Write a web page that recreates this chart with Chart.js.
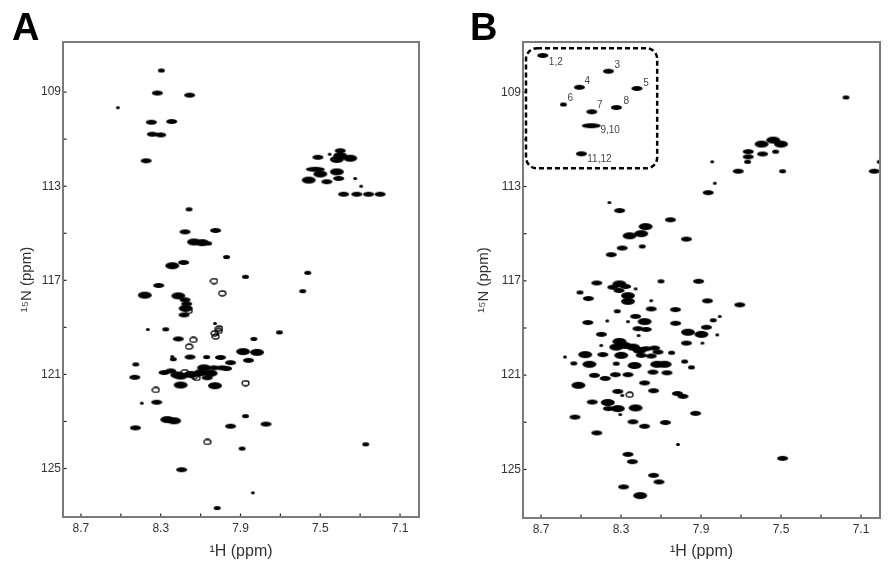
<!DOCTYPE html>
<html><head><meta charset="utf-8">
<script src="https://cdn.jsdelivr.net/npm/chart.js@4.4.0/dist/chart.umd.min.js"></script>
<style>
html,body{margin:0;padding:0;background:#fff;}
#wrap{position:relative;width:892px;height:573px;overflow:hidden;background:#fff;}
.pan{position:absolute;top:0;width:446px;height:573px;}
.letter{position:absolute;font:bold 38px 'Liberation Sans',Arial,sans-serif;line-height:38px;color:#000;}
</style></head><body>
<div id="wrap">
<div class="pan" style="left:0"><canvas id="cA" width="446" height="573" style="width:446px;height:573px"></canvas></div>
<div class="pan" style="left:446px"><canvas id="cB" width="446" height="573" style="width:446px;height:573px"></canvas></div>
<div class="letter" style="left:12px;top:8px">A</div>
<div class="letter" style="left:470px;top:8px">B</div>
</div>
<script>
// ---------- DATA ----------
// Panel A: 1H shift (ppm), 15N shift (ppm), intensity class (0 = weak contour ring, 1..5 increasing)
const aH = [8.297,8.317,8.155,8.515,8.347,8.245,8.342,8.300,8.373,8.158,8.178,8.025,8.133,8.092,8.060,7.970,8.242,8.185,7.875,8.033,8.310,7.563,
 7.400,7.512,7.417,7.350,7.453,7.525,7.500,7.417,7.558,7.467,7.408,7.325,7.295,7.383,7.317,7.258,7.200,7.400,
 8.380,8.212,8.178,8.175,8.183,7.992,7.588,8.365,8.275,8.212,8.137,8.158,8.025,8.008,8.028,7.705,7.833,8.153,8.070,8.242,7.887,7.817,
 8.425,8.237,8.000,7.950,7.860,7.875,8.283,8.217,8.200,8.133,8.100,8.083,8.067,8.033,7.992,8.200,8.028,8.430,8.325,8.320,8.395,
 8.267,8.233,8.427,7.950,7.875,7.772,8.067,7.892,7.272,8.195,7.838,8.017,
 8.250,8.150,8.050,7.970,8.180,8.120,8.170,8.160,8.030,8.010];
const aN = [108.08,109.04,109.13,109.66,110.28,110.25,110.79,110.82,111.92,113.98,114.94,114.88,115.37,115.40,115.43,116.01,116.38,116.24,116.85,117.03,117.22,116.68,
 111.49,111.77,111.86,111.81,111.64,112.28,112.48,112.39,112.74,112.81,112.67,112.67,113.00,113.34,113.34,113.34,113.34,111.70,
 117.63,117.66,117.83,118.19,118.47,117.55,117.46,119.09,119.08,119.49,119.53,119.82,119.39,119.04,118.83,119.21,119.49,120.26,120.26,120.24,120.03,120.06,
 120.57,120.35,120.28,120.50,120.40,121.37,120.92,121.02,121.07,121.07,120.93,120.72,121.14,120.72,120.72,121.45,121.48,121.12,121.66,122.18,122.22,
 122.92,122.97,123.27,123.20,122.77,123.11,123.87,124.15,123.97,125.05,126.03,126.68,
 120.85,121.00,120.95,120.75,120.90,121.15,118.00,118.30,119.25,119.15];
const aI = [2,3,3,1,3,3,3,3,3,2,3,3,4,4,2,2,4,3,2,0,3,2,
 3,3,4,4,1,5,4,4,4,3,3,1,1,3,3,3,3,4,
 4,4,3,4,3,0,2,1,2,3,0,0,0,0,1,2,2,3,2,1,4,4,
 2,2,3,3,3,0,3,4,4,0,4,4,3,3,3,4,4,3,0,3,1,
 4,4,3,3,2,3,0,2,2,3,1,2,
 3,4,4,3,0,0,3,0,0,0];

// Panel B (first nine entries are the labelled peaks inside the dashed box)
const bH = [8.691,8.363,8.508,8.220,8.588,8.446,8.323,8.449,8.498,
 7.175,7.004,7.034,7.844,7.831,7.714,7.492,7.597,7.539,7.500,7.664,7.664,7.592,7.527,7.667,7.864,
 8.358,8.307,8.053,8.177,8.257,8.199,7.973,8.349,8.294,8.194,8.421,8.308,8.100,7.912,
 8.505,8.463,8.341,8.277,8.310,8.265,8.265,8.227,8.149,7.868,7.706,8.319,8.149,8.028,7.806,7.839,8.466,8.227,8.182,8.265,8.369,8.027,
 8.215,8.174,7.873,7.965,7.898,7.819,8.212,8.398,7.893,7.973,
 8.308,8.283,8.324,8.299,8.240,8.207,8.174,8.132,8.199,8.149,8.115,8.399,8.391,8.047,8.324,
 8.580,8.479,8.536,8.458,8.232,8.265,8.119,8.082,8.140,8.070,7.982,7.948,
 8.433,8.379,8.328,8.513,8.182,8.316,8.257,8.294,8.137,8.018,7.990,8.444,8.366,8.363,8.316,8.227,8.304,7.927,
 8.530,8.240,8.182,8.078,8.421,8.015,8.265,8.243,7.492,8.137,8.110,8.287,8.204];
const bN = [107.44,108.11,108.79,108.84,109.52,109.83,109.65,110.42,111.61,
 109.22,111.95,112.35,111.95,112.86,112.35,112.35,111.20,111.03,111.20,111.52,111.74,111.62,111.52,111.95,113.26,
 113.68,114.02,114.41,114.70,115.09,115.00,115.23,115.89,115.61,115.54,117.09,117.13,117.02,117.02,
 117.49,117.75,117.27,117.24,117.41,117.63,117.87,117.34,117.84,117.85,118.02,118.29,118.19,118.22,118.51,118.67,118.77,118.51,118.73,118.73,118.70,118.80,
 119.03,119.06,118.97,119.18,119.27,119.29,119.32,119.27,119.64,119.64,
 119.57,119.74,119.81,120.16,119.81,119.95,119.88,119.85,120.16,120.19,120.02,119.74,120.13,120.05,120.51,
 120.23,120.13,120.50,120.54,120.59,120.98,120.54,120.54,120.87,120.90,120.42,120.67,
 121.01,121.14,120.98,121.43,121.33,121.69,121.83,121.86,121.66,121.78,121.90,122.14,122.16,122.42,122.42,122.39,122.67,122.62,
 122.78,122.98,123.17,123.01,123.45,123.94,124.36,124.67,124.53,125.25,125.53,125.74,126.11];
const bI = [3,3,3,3,2,3,3,5,3,
 2,2,3,1,1,3,2,4,4,4,3,3,3,2,2,3,
 1,3,3,4,4,4,3,3,3,2,3,4,2,3,
 2,3,3,3,3,4,4,1,1,3,3,2,3,3,1,2,3,3,4,1,1,3,
 3,3,3,4,4,1,1,3,1,3,
 4,4,4,4,4,4,3,3,3,3,3,1,3,2,2,
 1,4,2,4,4,3,4,4,3,3,2,2,
 3,3,3,4,3,3,0,1,3,3,3,3,4,3,4,4,1,3,
 3,3,3,3,3,1,3,3,3,3,3,3,4];
const boxLabels = ['1,2','3','4','5','6','7','8','9,10','11,12'];

const xTickValues = [8.7,8.5,8.3,8.1,7.9,7.7,7.5,7.3,7.1];
const xTickLabels = ['8.7','','8.3','','7.9','','7.5','','7.1'];
const yTickValues = [109,111,113,115,117,119,121,123,125];
const yTickLabels = ['109','','113','','117','','121','','125'];

// ---------- STYLE ----------
Chart.defaults.font.family = "'Liberation Sans', Arial, sans-serif";
Chart.defaults.color = '#333';

function ellipse(w, h, hollow) {
  const c = document.createElement('canvas');
  c.width = w + 2; c.height = h + 2;
  const g = c.getContext('2d');
  g.beginPath();
  g.ellipse((w + 2) / 2, (h + 2) / 2, w / 2, h / 2, 0, 0, Math.PI * 2);
  if (hollow) { g.lineWidth = 1.3; g.strokeStyle = '#000'; g.stroke(); }
  else { g.fillStyle = '#000'; g.fill(); }
  return c;
}
const peakShapes = [ellipse(7, 5, true), ellipse(4, 3), ellipse(7, 4), ellipse(11, 5), ellipse(14, 7), ellipse(19, 5)];

const framePlugin = {
  id: 'frame',
  afterDatasetsDraw(chart) {
    const { ctx, chartArea: a, scales: { x, y } } = chart;
    ctx.save();
    ctx.strokeStyle = '#7a7a7a'; ctx.lineWidth = 2;
    ctx.strokeRect(a.left, a.top, a.right - a.left, a.bottom - a.top);
    ctx.strokeStyle = '#222'; ctx.lineWidth = 1.2;
    x.ticks.forEach(t => { const px = x.getPixelForValue(t.value); ctx.beginPath(); ctx.moveTo(px, a.bottom - 1); ctx.lineTo(px, a.bottom - 3.5); ctx.stroke(); });
    y.ticks.forEach(t => { const py = y.getPixelForValue(t.value); ctx.beginPath(); ctx.moveTo(a.left + 1, py); ctx.lineTo(a.left + 3.5, py); ctx.stroke(); });
    ctx.restore();
  }
};

const boxRegionH = [8.775, 8.119], boxRegionN = [107.13, 112.23];
const labelOffsets = [[13,7],[9,-6],[8,-6],[9,-5],[7,-6],[8,-7],[10,-6],[19,5],[18,5]];
const boxPlugin = {
  id: 'box',
  afterDatasetsDraw(chart) {
    const { ctx, scales: { x, y } } = chart;
    const x0 = x.getPixelForValue(boxRegionH[0]), x1 = x.getPixelForValue(boxRegionH[1]);
    const y0 = y.getPixelForValue(boxRegionN[0]), y1 = y.getPixelForValue(boxRegionN[1]);
    ctx.save();
    ctx.setLineDash([5, 3]); ctx.lineWidth = 2.5; ctx.strokeStyle = '#000';
    ctx.beginPath();
    ctx.roundRect(Math.min(x0, x1), Math.min(y0, y1), Math.abs(x1 - x0), Math.abs(y1 - y0), 11);
    ctx.stroke();
    ctx.setLineDash([]);
    ctx.fillStyle = '#444'; ctx.font = "10px 'Liberation Sans', Arial, sans-serif";
    ctx.textAlign = 'center'; ctx.textBaseline = 'middle';
    boxLabels.forEach((t, i) => {
      const px = x.getPixelForValue(bH[i]), py = y.getPixelForValue(bN[i]);
      ctx.fillText(t, px + labelOffsets[i][0], py + labelOffsets[i][1]);
    });
    ctx.restore();
  }
};

function makeChart(id, H, N, I, padLeft, yWidth, padRight, xHeight, yTitlePad, extra) {
  return new Chart(document.getElementById(id), {
    type: 'scatter',
    data: { datasets: [{
      data: H.map((h, i) => ({ x: h, y: N[i] })),
      pointStyle: c => peakShapes[I[c.dataIndex]],
      pointRadius: 3, pointHoverRadius: 3
    }] },
    options: {
      responsive: false, animation: false, devicePixelRatio: 1,
      layout: { padding: { left: padLeft, right: padRight, top: 42, bottom: 0 } },
      plugins: { legend: { display: false }, tooltip: { enabled: false } },
      events: [],
      scales: {
        x: {
          type: 'linear', reverse: true, min: 7.005, max: 8.79,
          afterBuildTicks: s => { s.ticks = xTickValues.map(v => ({ value: v })); },
          afterFit: s => { s.height = xHeight; },
          grid: { display: false, drawTicks: false }, border: { display: false },
          ticks: { callback: (v, i) => xTickLabels[i], color: '#333', font: { size: 12 }, padding: 4, autoSkip: false, maxRotation: 0 },
          title: { display: true, text: '¹H (ppm)', color: '#333', font: { size: 16 }, padding: { top: 0, bottom: 12 } }
        },
        y: {
          type: 'linear', reverse: true, min: 106.87, max: 127.06,
          afterBuildTicks: s => { s.ticks = yTickValues.map(v => ({ value: v })); },
          afterFit: s => { s.width = yWidth; },
          grid: { display: false, drawTicks: false }, border: { display: false },
          ticks: { callback: (v, i) => yTickLabels[i], color: '#333', font: { size: 12 }, padding: 2, autoSkip: false },
          title: { display: true, text: '¹⁵N (ppm)', color: '#333', font: { size: 15 }, padding: { top: yTitlePad, bottom: 0 } }
        }
      }
    },
    plugins: [framePlugin].concat(extra)
  });
}

makeChart('cA', aH, aN, aI, 0, 63, 27, 56, 18, []);
makeChart('cB', bH, bN, bI, 0, 77, 12, 55, 29, [boxPlugin]);
</script>
</body></html>
